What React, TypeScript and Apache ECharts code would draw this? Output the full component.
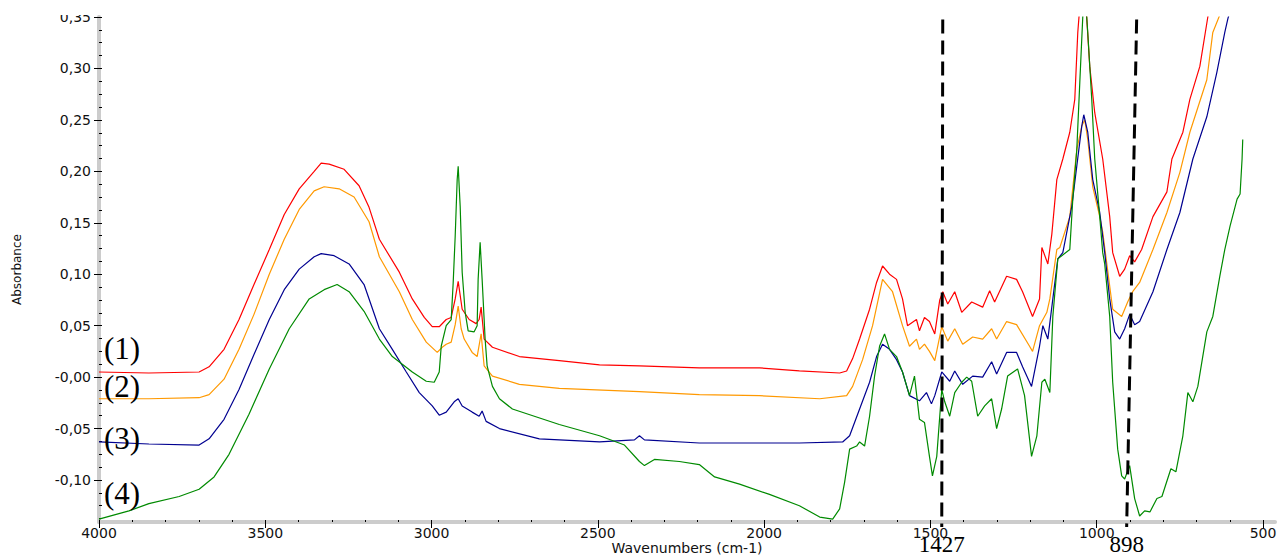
import React, { useEffect, useRef } from "react";
import * as echarts from "echarts";

// ---- axis ticks / labels ----
const xTickValues = [4000, 3500, 3000, 2500, 2000, 1500, 1000, 500];
const yTickValues = [-0.1, -0.05, 0, 0.05, 0.1, 0.15, 0.2, 0.25, 0.3, 0.35];
const yTickLabels = ["-0,10", "-0,05", "-0,00", "0,05", "0,10", "0,15", "0,20", "0,25", "0,30", "0,35"];

// ---- series ----
const seriesNames = ["(1)", "(2)", "(3)", "(4)"];
const seriesColors = ["#ff0000", "#ff9900", "#000090", "#008a00"];

const spectrum1: [number, number][] = [
  [4000, 0.005], [3850, 0.004], [3699, 0.005], [3669, 0.01], [3624, 0.027], [3579, 0.056], [3534, 0.09],
  [3488, 0.124], [3443, 0.158], [3398, 0.183], [3353, 0.2], [3332, 0.208], [3308, 0.207], [3263, 0.202],
  [3218, 0.186], [3188, 0.165], [3157, 0.134], [3097, 0.102], [3058, 0.076], [3022, 0.058], [2998, 0.049],
  [2977, 0.049], [2956, 0.056], [2941, 0.058], [2929, 0.076], [2920, 0.093], [2908, 0.066], [2887, 0.056],
  [2866, 0.052], [2857, 0.056], [2851, 0.068], [2842, 0.037], [2817, 0.029], [2736, 0.02], [2616, 0.016],
  [2495, 0.012], [2375, 0.011], [2195, 0.009], [2014, 0.009], [1894, 0.006], [1773, 0.004], [1752, 0.006],
  [1734, 0.018], [1713, 0.037], [1683, 0.066], [1662, 0.092], [1644, 0.108], [1623, 0.1], [1602, 0.095],
  [1584, 0.076], [1569, 0.05], [1542, 0.056], [1533, 0.045], [1518, 0.058], [1503, 0.054], [1487, 0.042],
  [1472, 0.075], [1463, 0.083], [1448, 0.071], [1427, 0.083], [1406, 0.063], [1376, 0.073], [1343, 0.068],
  [1322, 0.084], [1307, 0.073], [1271, 0.098], [1241, 0.095], [1223, 0.083], [1193, 0.059], [1172, 0.076],
  [1165, 0.126], [1147, 0.11], [1135, 0.139], [1120, 0.192], [1102, 0.212], [1081, 0.238], [1066, 0.27],
  [1057, 0.335], [1051, 0.36], [1036, 0.38], [1021, 0.302], [1006, 0.257], [982, 0.212], [961, 0.156],
  [952, 0.121], [931, 0.098], [916, 0.105], [901, 0.118], [886, 0.112], [865, 0.124], [831, 0.156],
  [789, 0.18], [774, 0.212], [741, 0.238], [720, 0.27], [690, 0.302], [666, 0.35], [645, 0.38],
];

const spectrum2: [number, number][] = [
  [4000, -0.021], [3850, -0.021], [3699, -0.02], [3669, -0.017], [3624, -0.002], [3579, 0.027], [3534, 0.061],
  [3488, 0.1], [3443, 0.134], [3398, 0.163], [3353, 0.181], [3323, 0.185], [3278, 0.183], [3233, 0.175],
  [3188, 0.151], [3157, 0.117], [3097, 0.083], [3058, 0.056], [3016, 0.034], [2983, 0.024], [2968, 0.029],
  [2956, 0.032], [2941, 0.034], [2929, 0.051], [2920, 0.069], [2911, 0.047], [2902, 0.037], [2878, 0.024],
  [2863, 0.02], [2851, 0.042], [2842, 0.011], [2817, 0.001], [2736, -0.007], [2616, -0.011], [2375, -0.014],
  [2195, -0.017], [2014, -0.018], [1833, -0.021], [1752, -0.018], [1734, -0.009], [1704, 0.017], [1674, 0.05],
  [1644, 0.095], [1614, 0.083], [1584, 0.05], [1563, 0.03], [1542, 0.037], [1533, 0.027], [1518, 0.032],
  [1503, 0.025], [1487, 0.016], [1466, 0.049], [1448, 0.035], [1427, 0.047], [1403, 0.032], [1373, 0.039],
  [1343, 0.037], [1316, 0.047], [1301, 0.037], [1271, 0.054], [1241, 0.051], [1202, 0.03], [1193, 0.025],
  [1172, 0.05], [1150, 0.063], [1141, 0.076], [1120, 0.124], [1111, 0.126], [1081, 0.156], [1060, 0.221],
  [1045, 0.244], [1036, 0.25], [1027, 0.231], [1012, 0.185], [991, 0.156], [982, 0.141], [952, 0.066],
  [925, 0.059], [907, 0.073], [892, 0.083], [871, 0.092], [831, 0.124], [789, 0.16], [750, 0.199],
  [720, 0.238], [669, 0.289], [651, 0.335], [630, 0.352], [606, 0.377],
];

const spectrum3: [number, number][] = [
  [4000, -0.063], [3850, -0.065], [3699, -0.066], [3669, -0.06], [3624, -0.041], [3579, -0.012], [3534, 0.022],
  [3488, 0.056], [3443, 0.085], [3398, 0.105], [3353, 0.117], [3332, 0.12], [3293, 0.118], [3248, 0.11],
  [3203, 0.09], [3157, 0.047], [3118, 0.027], [3076, 0.005], [3037, -0.015], [2998, -0.028], [2977, -0.037],
  [2956, -0.034], [2932, -0.024], [2920, -0.021], [2908, -0.028], [2878, -0.034], [2857, -0.038], [2848, -0.033],
  [2836, -0.043], [2796, -0.05], [2676, -0.06], [2495, -0.063], [2390, -0.061], [2375, -0.057], [2360, -0.061],
  [2195, -0.064], [1894, -0.064], [1764, -0.063], [1743, -0.057], [1713, -0.031], [1683, -0.005], [1662, 0.02],
  [1644, 0.032], [1623, 0.027], [1602, 0.017], [1584, 0.005], [1563, -0.018], [1533, -0.023], [1512, -0.015],
  [1497, -0.026], [1487, -0.018], [1466, 0.005], [1442, -0.004], [1427, 0.006], [1403, -0.007], [1373, 0.001],
  [1343, 0.0], [1316, 0.015], [1301, 0.003], [1271, 0.024], [1241, 0.024], [1223, 0.01], [1196, -0.009],
  [1172, 0.03], [1162, 0.05], [1147, 0.037], [1132, 0.076], [1117, 0.115], [1102, 0.121], [1075, 0.166],
  [1060, 0.205], [1045, 0.244], [1039, 0.255], [1027, 0.238], [1012, 0.192], [991, 0.16], [976, 0.121],
  [961, 0.076], [946, 0.044], [931, 0.037], [916, 0.047], [901, 0.061], [886, 0.051], [871, 0.054],
  [831, 0.083], [789, 0.124], [750, 0.16], [711, 0.212], [669, 0.253], [639, 0.296], [615, 0.335],
  [606, 0.348], [585, 0.372],
];

const spectrum4: [number, number][] = [
  [4000, -0.138], [3910, -0.13], [3850, -0.123], [3759, -0.116], [3699, -0.109], [3654, -0.097], [3609, -0.075],
  [3549, -0.036], [3488, 0.008], [3428, 0.047], [3368, 0.076], [3323, 0.085], [3284, 0.09], [3248, 0.083],
  [3203, 0.064], [3157, 0.037], [3118, 0.02], [3058, 0.005], [3016, -0.004], [2992, -0.005], [2977, 0.005],
  [2971, 0.03], [2956, 0.05], [2941, 0.056], [2935, 0.092], [2929, 0.137], [2923, 0.192], [2920, 0.205],
  [2914, 0.166], [2908, 0.102], [2899, 0.063], [2890, 0.045], [2872, 0.044], [2863, 0.05], [2860, 0.095],
  [2854, 0.131], [2848, 0.095], [2839, 0.037], [2833, 0.011], [2817, -0.009], [2796, -0.021], [2757, -0.031],
  [2616, -0.046], [2495, -0.057], [2420, -0.066], [2375, -0.082], [2360, -0.086], [2330, -0.08], [2255, -0.082],
  [2195, -0.085], [2149, -0.097], [2074, -0.104], [1984, -0.114], [1894, -0.125], [1833, -0.136], [1794, -0.138],
  [1773, -0.128], [1758, -0.102], [1743, -0.07], [1722, -0.067], [1713, -0.063], [1698, -0.067], [1683, -0.038],
  [1668, 0.001], [1653, 0.03], [1638, 0.042], [1623, 0.027], [1602, 0.02], [1584, 0.005], [1563, -0.018],
  [1548, 0.001], [1533, -0.041], [1518, -0.044], [1503, -0.077], [1494, -0.096], [1481, -0.077], [1466, -0.012],
  [1457, -0.024], [1442, -0.038], [1427, -0.015], [1406, -0.005], [1391, 0.0], [1376, -0.004], [1358, -0.038],
  [1337, -0.028], [1316, -0.021], [1301, -0.05], [1286, -0.031], [1268, 0.001], [1238, 0.008], [1217, -0.018],
  [1196, -0.077], [1180, -0.057], [1165, -0.005], [1156, -0.002], [1141, -0.015], [1132, 0.059], [1117, 0.115],
  [1081, 0.124], [1072, 0.173], [1060, 0.221], [1051, 0.286], [1042, 0.35], [1036, 0.377], [1027, 0.335],
  [1015, 0.27], [1006, 0.212], [991, 0.156], [982, 0.121], [976, 0.11], [961, 0.059], [952, -0.005],
  [937, -0.07], [925, -0.096], [916, -0.099], [901, -0.086], [886, -0.118], [871, -0.135], [856, -0.13],
  [840, -0.131], [819, -0.118], [804, -0.116], [777, -0.089], [762, -0.092], [741, -0.057], [726, -0.015],
  [711, -0.024], [696, -0.009], [669, 0.044], [651, 0.059], [630, 0.098], [615, 0.124], [599, 0.147],
  [578, 0.173], [569, 0.178], [563, 0.212], [561, 0.231],
];

const spectra = [spectrum1, spectrum2, spectrum3, spectrum4];

// ---- annotations ----
const markLabels = ["1427", "898"];
const markTopWn = [1463, 880];
const markBottomWn = [1466, 910];
const markTopAbs = 0.3476;
const markBottomAbs = -0.1456;

const X_MIN = 464;
const X_MAX = 4000;
const Y_MIN = -0.1408;
const Y_MAX = 0.35;

const xMinorTicks: number[] = [];
for (let w = 4000; w >= 500; w -= 100) xMinorTicks.push(w);
const yMinorTicks: number[] = [];
for (let i = -11; i <= 28; i++) yMinorTicks.push(Math.round(i * 125) / 10000);

const sansFont = "DejaVu Sans";
const serifFont = "Liberation Serif";

export default function App() {
  const ref = useRef<HTMLDivElement>(null);

  useEffect(() => {
    if (!ref.current) return;
    const chart = echarts.init(ref.current, undefined, { renderer: "svg" });
    const option: any = {
      animation: false,
      backgroundColor: "#ffffff",
      grid: { left: 99, right: 6, top: 17, bottom: 36, containLabel: false, outerBoundsMode: "none" },
      xAxis: [
        {
          type: "value",
          min: X_MIN,
          max: X_MAX,
          inverse: true,
          position: "bottom",
          name: "Wavenumbers (cm-1)",
          nameLocation: "middle",
          nameGap: 19,
          nameMoveOverlap: false,
          nameTextStyle: { fontFamily: sansFont, fontSize: 14, color: "#111", verticalAlign: "top" },
          axisLine: { show: true, onZero: false, lineStyle: { color: "#cccccc", width: 4 } },
          axisTick: { show: true, customValues: xTickValues, length: 6, inside: false, lineStyle: { color: "#000", width: 1 } },
          axisLabel: {
            show: true,
            customValues: xTickValues,
            margin: 4,
            fontFamily: sansFont,
            fontSize: 14,
            color: "#111",
            formatter: (v: number) => String(Math.round(v)),
          },
          splitLine: { show: false },
        },
        {
          type: "value",
          min: X_MIN,
          max: X_MAX,
          inverse: true,
          position: "bottom",
          axisLine: { show: false, onZero: false },
          axisTick: { show: true, customValues: xMinorTicks, length: 2, inside: true, lineStyle: { color: "#000", width: 1 } },
          axisLabel: { show: false },
          splitLine: { show: false },
        },
      ],
      yAxis: [
        {
          type: "value",
          min: Y_MIN,
          max: Y_MAX,
          position: "left",
          name: "Absorbance",
          nameLocation: "middle",
          nameGap: 76,
          nameRotate: 90,
          nameMoveOverlap: false,
          nameTextStyle: { fontFamily: sansFont, fontSize: 12, color: "#111" },
          axisLine: { show: true, onZero: false, lineStyle: { color: "#cccccc", width: 4 } },
          axisTick: { show: true, customValues: yTickValues, length: 5, inside: false, lineStyle: { color: "#000", width: 1 } },
          axisLabel: {
            show: true,
            customValues: yTickValues,
            margin: 8,
            fontFamily: sansFont,
            fontSize: 14,
            color: "#111",
            formatter: (v: number) => {
              let best = 0;
              for (let i = 0; i < yTickValues.length; i++) {
                if (Math.abs(yTickValues[i] - v) < Math.abs(yTickValues[best] - v)) best = i;
              }
              return yTickLabels[best];
            },
          },
          splitLine: { show: false },
        },
        {
          type: "value",
          min: Y_MIN,
          max: Y_MAX,
          position: "left",
          axisLine: { show: false, onZero: false },
          axisTick: { show: true, customValues: yMinorTicks, length: 3, inside: true, lineStyle: { color: "#000", width: 1 } },
          axisLabel: { show: false },
          splitLine: { show: false },
        },
      ],
      series: spectra.map((d, i) => ({
        type: "line",
        name: seriesNames[i],
        data: d,
        xAxisIndex: 0,
        yAxisIndex: 0,
        showSymbol: false,
        symbol: "none",
        clip: true,
        lineStyle: { color: seriesColors[i], width: 1.2 },
        itemStyle: { color: seriesColors[i] },
        z: 2 + i,
      })),
    };
    chart.setOption(option);

    const graphics: any[] = [];
    for (let i = 0; i < markLabels.length; i++) {
      const p1 = chart.convertToPixel({ xAxisIndex: 0, yAxisIndex: 0 }, [markTopWn[i], markTopAbs]) as number[];
      const p2 = chart.convertToPixel({ xAxisIndex: 0, yAxisIndex: 0 }, [markBottomWn[i], markBottomAbs]) as number[];
      graphics.push({
        type: "line",
        shape: { x1: p1[0], y1: p1[1], x2: p2[0], y2: p2[1] },
        style: { stroke: "#000", lineWidth: 3, lineDash: [14, 7] },
        z: 50,
      });
      graphics.push({
        type: "text",
        x: p2[0],
        y: p2[1] + 6,
        style: {
          text: markLabels[i],
          font: `23px "${serifFont}"`,
          fill: "#000",
          textAlign: "center",
          textVerticalAlign: "top",
        },
        z: 50,
      });
    }
    const labelCenters = [348, 386, 438, 493];
    seriesNames.forEach((n, i) => {
      graphics.push({
        type: "text",
        x: 104,
        y: labelCenters[i],
        style: {
          text: n,
          font: `31px "${serifFont}"`,
          fill: "#000",
          textAlign: "left",
          textVerticalAlign: "middle",
        },
        z: 50,
      });
    });
    // cropped top edge of the original figure
    graphics.push({
      type: "rect",
      shape: { x: 0, y: 0, width: 96, height: 15 },
      style: { fill: "#ffffff" },
      z: 100,
    });
    chart.setOption({ graphic: graphics });

    return () => chart.dispose();
  }, []);

  return (
    <div
      ref={ref}
      style={{ position: "absolute", left: 0, top: 0, width: 1281, height: 558 }}
    />
  );
}
